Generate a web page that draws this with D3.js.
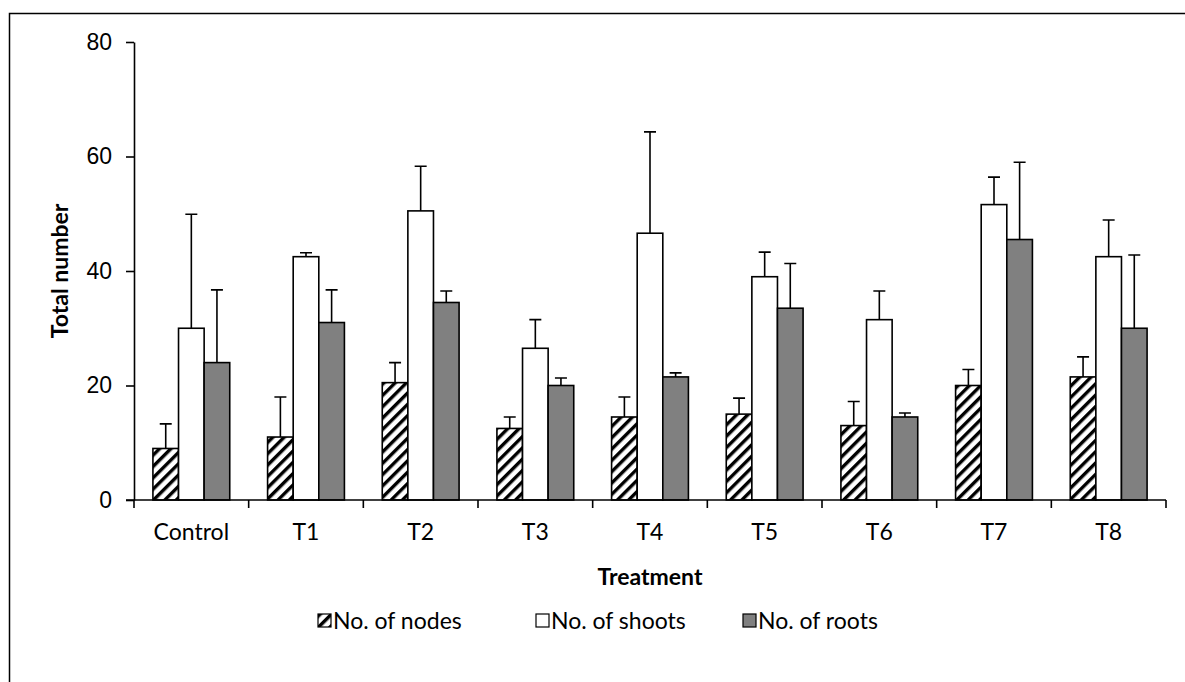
<!DOCTYPE html>
<html>
<head>
<meta charset="utf-8">
<script src="https://cdn.jsdelivr.net/npm/d3@7"></script>
<style>
  html, body { margin: 0; padding: 0; background: #fff; }
  svg { display: block; font-family: Lato, "Open Sans", sans-serif; }
</style>
</head>
<body>
<svg id="chart" width="1185" height="682"></svg>
<script>
// Treatments on the x axis
const categories = ["Control", "T1", "T2", "T3", "T4", "T5", "T6", "T7", "T8"];
const seriesNames = ["No. of nodes", "No. of shoots", "No. of roots"];

// Means
const nodes  = [9, 11, 20.5, 12.5, 14.5, 15, 13, 20, 21.5];
const shoots = [30, 42.5, 50.5, 26.5, 46.6, 39, 31.5, 51.6, 42.5];
const roots  = [24, 31, 34.5, 20, 21.5, 33.5, 14.5, 45.5, 30];

// Upper error (only + side is drawn)
const nodesErr  = [4.3, 7, 3.5, 2, 3.5, 2.8, 4.2, 2.8, 3.5];
const shootsErr = [19.9, 0.7, 7.8, 5, 17.7, 4.3, 5, 4.8, 6.4];
const rootsErr  = [12.7, 5.7, 2, 1.3, 0.7, 7.8, 0.7, 13.5, 12.8];

const yTicks = [0, 20, 40, 60, 80];

const series = [
  { name: seriesNames[0], values: nodes, err: nodesErr, fill: "url(#hatch)" },
  { name: seriesNames[1], values: shoots, err: shootsErr, fill: "#ffffff" },
  { name: seriesNames[2], values: roots, err: rootsErr, fill: "#808080" },
];

const svg = d3.select("#chart");
const margin = { left: 134, right: 19, top: 42, bottom: 182 };
const W = 1185, H = 682;
const innerW = W - margin.left - margin.right;
const innerH = H - margin.top - margin.bottom;
const FS = 23;

// hatch pattern for nodes
const defs = svg.append("defs");
const pat = defs.append("pattern")
  .attr("id", "hatch")
  .attr("patternUnits", "userSpaceOnUse")
  .attr("width", 8).attr("height", 8)
  .attr("patternTransform", "rotate(45)");
pat.append("rect").attr("width", 8).attr("height", 8).attr("fill", "#fff");
pat.append("rect").attr("x", 0).attr("width", 3.4).attr("height", 8).attr("fill", "#000");

// outer frame (bottom edge runs off the picture)
svg.append("path")
  .attr("d", `M9.5,${H + 5} V13.5 H${W + 5}`)
  .attr("fill", "none").attr("stroke", "#000").attr("stroke-width", 1.5);

const g = svg.append("g").attr("transform", `translate(${margin.left},${margin.top})`);

const x0 = d3.scaleBand().domain(categories).range([0, innerW]).paddingInner(0).paddingOuter(0);
const bandPad = 0.165;
const x1 = d3.scaleBand().domain(seriesNames)
  .range([x0.bandwidth() * bandPad, x0.bandwidth() * (1 - bandPad)]);
const y = d3.scaleLinear().domain([0, 80]).range([innerH, 0]);

// bars
series.forEach(s => {
  const grp = g.append("g");
  grp.selectAll("rect")
    .data(categories)
    .join("rect")
    .attr("x", c => x0(c) + x1(s.name))
    .attr("y", (c, i) => y(s.values[i]))
    .attr("width", x1.bandwidth())
    .attr("height", (c, i) => y(0) - y(s.values[i]))
    .attr("fill", s.fill)
    .attr("stroke", "#000")
    .attr("stroke-width", 1.6);

  // error bars
  const capW = 12;
  grp.selectAll("path.err")
    .data(categories)
    .join("path")
    .attr("class", "err")
    .attr("d", (c, i) => {
      const cx = x0(c) + x1(s.name) + x1.bandwidth() / 2;
      const y1 = y(s.values[i]), y2 = y(s.values[i] + s.err[i]);
      return `M${cx},${y1}V${y2}M${cx - capW / 2},${y2}H${cx + capW / 2}`;
    })
    .attr("fill", "none").attr("stroke", "#000").attr("stroke-width", 1.6);
});

// y axis
const yAxis = g.append("g")
  .call(d3.axisLeft(y).tickValues(yTicks).tickSize(8).tickSizeOuter(0).tickPadding(14));
yAxis.select(".domain").attr("stroke-width", 1.6);
yAxis.selectAll("line").attr("stroke-width", 1.6);
yAxis.selectAll("text").attr("font-size", FS).attr("fill", "#000");

// x axis with ticks between categories
const xAxis = g.append("g").attr("transform", `translate(0,${innerH})`);
xAxis.append("line").attr("x1", -8).attr("x2", innerW).attr("stroke", "#000").attr("stroke-width", 1.6);
const tickPos = categories.map(c => x0(c)).concat([innerW]);
xAxis.selectAll("line.tk").data(tickPos).join("line")
  .attr("class", "tk").attr("x1", d => d).attr("x2", d => d)
  .attr("y1", 0).attr("y2", 8).attr("stroke", "#000").attr("stroke-width", 1.6);
xAxis.selectAll("text").data(categories).join("text")
  .attr("x", c => x0(c) + x0.bandwidth() / 2)
  .attr("y", 40)
  .attr("text-anchor", "middle")
  .attr("font-size", FS)
  .text(c => c);

// axis titles
g.append("text")
  .attr("x", innerW / 2).attr("y", innerH + 85)
  .attr("text-anchor", "middle").attr("font-size", FS).attr("font-weight", "bold")
  .text("Treatment");
svg.append("text")
  .attr("transform", `translate(68,${margin.top + innerH / 2}) rotate(-90)`)
  .attr("text-anchor", "middle").attr("font-size", FS).attr("font-weight", "bold")
  .text("Total number");

// legend
const legendX = [318, 536, 743];
const leg = svg.append("g");
series.forEach((s, i) => {
  const lg = leg.append("g").attr("transform", `translate(${legendX[i]},614)`);
  lg.append("rect").attr("width", 13).attr("height", 13)
    .attr("fill", s.fill).attr("stroke", "#000").attr("stroke-width", 1.2);
  lg.append("text").attr("x", 15).attr("y", 15).attr("font-size", FS).text(s.name);
});
</script>
</body>
</html>
